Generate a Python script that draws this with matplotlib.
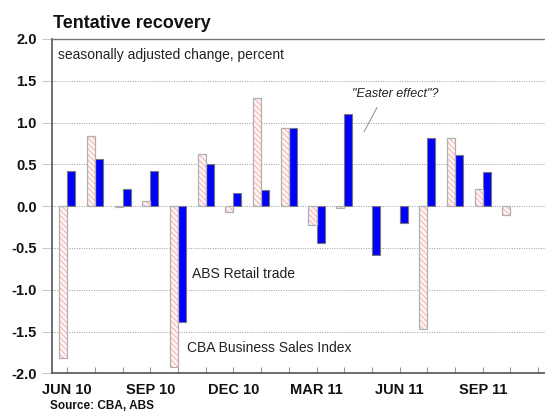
import matplotlib.pyplot as plt
import numpy as np

plt.rcParams['font.family'] = ['Liberation Sans', 'DejaVu Sans']
plt.rcParams['hatch.linewidth'] = 0.7

# monthly changes, Jun 2010 .. Nov 2011
months = ['JUN 10', 'JUL 10', 'AUG 10', 'SEP 10', 'OCT 10', 'NOV 10',
          'DEC 10', 'JAN 11', 'FEB 11', 'MAR 11', 'APR 11', 'MAY 11',
          'JUN 11', 'JUL 11', 'AUG 11', 'SEP 11', 'OCT 11', 'NOV 11']
cba_sales = [-1.82, 0.84, -0.01, 0.06, -1.92, 0.62, -0.07, 1.29, 0.94,
             -0.22, -0.02, np.nan, np.nan, -1.47, 0.81, 0.20, -0.10, np.nan]
abs_retail = [0.42, 0.57, 0.21, 0.42, -1.39, 0.50, 0.16, 0.19, 0.93,
              -0.44, 1.10, -0.58, -0.20, 0.81, 0.61, 0.41, np.nan, np.nan]
label_months = ['JUN 10', 'SEP 10', 'DEC 10', 'MAR 11', 'JUN 11', 'SEP 11']

x = np.arange(len(months))
w = 0.29

fig = plt.figure(figsize=(5.45, 4.12), dpi=100)
ax = fig.add_axes([52/545, (412-373.3)/412, (545-52)/545, (373.3-39)/412])

# pink hatched bars (CBA) - hatch drawn separately from grey outline
ax.bar(x - w/2, cba_sales, width=w, facecolor='#fff4f4', edgecolor='#f5b0b0',
       hatch='\\\\\\\\\\\\', linewidth=0, zorder=3)
ax.bar(x - w/2, cba_sales, width=w, facecolor='none', edgecolor='#b0b0b0',
       linewidth=0.9, zorder=4)
# blue bars (ABS)
ax.bar(x + w/2, abs_retail, width=w, color='#0000ff', edgecolor='#777777',
       linewidth=0.8, zorder=3)

ax.set_xlim(-0.552, 17.25)
ax.set_ylim(-2.0, 2.0)
ax.set_yticks(np.arange(-2.0, 2.01, 0.5))
ax.set_yticklabels(['%.1f' % v for v in np.arange(-2.0, 2.01, 0.5)],
                   fontsize=10.5, fontweight='bold', color='#111111')
ax.set_xticks(x)
ax.set_xticklabels([m if m in label_months else '' for m in months],
                   fontsize=10.5, fontweight='bold', color='#111111')
ax.tick_params(axis='x', direction='in', length=4, color='#999999', width=0.8, pad=7)
ax.tick_params(axis='y', direction='out', length=7, color='#bbbbbb', width=0.6, pad=4)
ax.grid(axis='y', linestyle=(0, (1, 1.5)), color='#999999', linewidth=0.7, zorder=0)

for s in ['left', 'bottom']:
    ax.spines[s].set_color('#555555')
    ax.spines[s].set_linewidth(1.2)
ax.spines['top'].set_color('#777777')
ax.spines['top'].set_linewidth(1.0)
ax.spines['right'].set_visible(False)

ax.text(0.012, 0.952, 'seasonally adjusted change, percent', transform=ax.transAxes,
        fontsize=10, color='#222222', va='center', ha='left')
ax.text(11.84, 1.34, '"Easter effect"?', fontsize=9, style='italic',
        color='#222222', ha='center', va='center')
ax.annotate('', xy=(10.67, 0.86), xytext=(11.23, 1.21),
            arrowprops=dict(arrowstyle='-', color='#999999', lw=0.8))
ax.text(4.5, -0.81, 'ABS Retail trade', fontsize=10, color='#222222',
        ha='left', va='center')
ax.text(4.34, -1.70, 'CBA Business Sales Index', fontsize=10, color='#222222',
        ha='left', va='center')

fig.text(53/545, 1 - 24/412, 'Tentative recovery', fontsize=13, fontweight='bold',
         color='#111111', ha='left', va='center')
fig.text(50/545, 1 - 406/412, 'Source: CBA, ABS', fontsize=8.5, fontweight='bold',
         color='#111111', ha='left', va='center')

fig.savefig('out.png', dpi=100)
